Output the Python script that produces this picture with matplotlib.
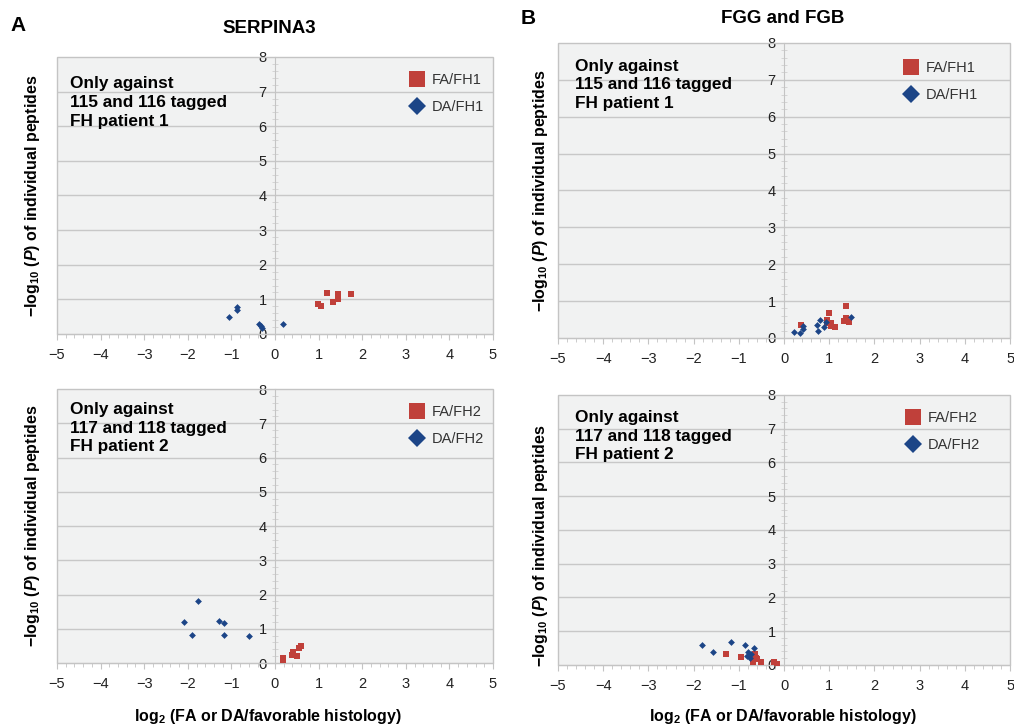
import matplotlib
matplotlib.use("Agg")
import matplotlib.pyplot as plt
import matplotlib.transforms as mtransforms
from matplotlib.lines import Line2D
from matplotlib.patches import Rectangle
from matplotlib.ticker import MultipleLocator

plt.rcParams.update({
    "font.family": ["Liberation Sans", "DejaVu Sans"],
    "mathtext.fontset": "custom",
    "mathtext.rm": "Liberation Sans:bold",
    "mathtext.bf": "Liberation Sans:bold",
    "mathtext.it": "Liberation Sans:italic:bold",
    "mathtext.default": "bf",
})

RED = "#c0403a"
BLUE = "#1c4587"

# A top: SERPINA3, patient 1
a1_fa_x = [1.20, 1.44, 1.74, 1.45, 1.34, 0.98, 1.06]
a1_fa_y = [1.19, 1.16, 1.16, 1.02, 0.93, 0.875, 0.82]
a1_da_x = [-0.86, -0.88, -1.05, -0.37, -0.32, -0.30, 0.19]
a1_da_y = [0.77, 0.70, 0.48, 0.30, 0.23, 0.17, 0.30]

# A bottom: SERPINA3, patient 2
a2_fa_x = [0.19, 0.19, 0.40, 0.42, 0.51, 0.56, 0.59]
a2_fa_y = [0.15, 0.08, 0.24, 0.32, 0.21, 0.44, 0.50]
a2_da_x = [-1.76, -2.09, -1.28, -1.16, -1.91, -1.16, -0.60]
a2_da_y = [1.82, 1.19, 1.22, 1.17, 0.82, 0.82, 0.78]

# B top: FGG and FGB, patient 1
b1_fa_x = [0.38, 1.00, 1.38, 0.94, 0.94, 1.05, 1.05, 1.12, 1.32, 1.38, 1.44]
b1_fa_y = [0.35, 0.67, 0.86, 0.49, 0.40, 0.40, 0.33, 0.29, 0.45, 0.53, 0.43]
b1_da_x = [0.23, 0.35, 0.43, 0.41, 0.74, 0.79, 0.76, 0.89, 0.92, 1.48]
b1_da_y = [0.15, 0.13, 0.24, 0.33, 0.35, 0.48, 0.20, 0.31, 0.44, 0.56]

# B bottom: FGG and FGB, patient 2
b2_fa_x = [-1.29, -0.95, -0.75, -0.65, -0.63, -0.69, -0.59, -0.52, -0.23, -0.16]
b2_fa_y = [0.34, 0.25, 0.31, 0.34, 0.21, 0.10, 0.17, 0.10, 0.08, 0.04]
b2_da_x = [-1.81, -1.58, -1.17, -0.86, -0.67, -0.79, -0.81, -0.76, -0.73]
b2_da_y = [0.58, 0.38, 0.67, 0.58, 0.51, 0.37, 0.27, 0.22, 0.32]

x_ticks = [-5, -4, -3, -2, -1, 0, 1, 2, 3, 4, 5]
y_ticks = [0, 1, 2, 3, 4, 5, 6, 7, 8]

YLABEL = r"$-$log$_{10}$ ($\mathit{P}$) of individual peptides"
XLABEL = r"log$_{2}$ (FA or DA/favorable histology)"

fig = plt.figure(figsize=(10.14, 7.27), dpi=100)

panels = [
    dict(rect=[0.0562, 0.5406, 0.4300, 0.3810], fa=(a1_fa_x, a1_fa_y), da=(a1_da_x, a1_da_y),
         labels=("FA/FH1", "DA/FH1"), patient="115 and 116 tagged\nFH patient 1",
         leg=(0.79, 0.962), note=(0.030, 0.930), ylab_x=0.0316, ylab_y=0.5),
    dict(rect=[0.0562, 0.0880, 0.4300, 0.3769], fa=(a2_fa_x, a2_fa_y), da=(a2_da_x, a2_da_y),
         labels=("FA/FH2", "DA/FH2"), patient="117 and 118 tagged\nFH patient 2",
         leg=(0.79, 0.962), note=(0.030, 0.952), ylab_x=0.0316, ylab_y=0.5),
    dict(rect=[0.5503, 0.5351, 0.4458, 0.4058], fa=(b1_fa_x, b1_fa_y), da=(b1_da_x, b1_da_y),
         labels=("FA/FH1", "DA/FH1"), patient="115 and 116 tagged\nFH patient 1",
         leg=(0.745, 0.958), note=(0.038, 0.946), ylab_x=0.533, ylab_y=0.5),
    dict(rect=[0.5503, 0.0853, 0.4458, 0.3714], fa=(b2_fa_x, b2_fa_y), da=(b2_da_x, b2_da_y),
         labels=("FA/FH2", "DA/FH2"), patient="117 and 118 tagged\nFH patient 2",
         leg=(0.75, 0.962), note=(0.038, 0.944), ylab_x=0.533, ylab_y=0.44),
]

for p in panels:
    ax = fig.add_axes(p["rect"])
    ax.set_facecolor("#f1f2f2")
    ax.set_xlim(-5, 5)
    ax.set_ylim(0, 8)

    # horizontal gridlines and box
    for yv in y_ticks[1:-1]:
        ax.axhline(yv, color="#c8c8c8", lw=1.0, zorder=1)
    ax.add_patch(Rectangle((0, 0), 1, 1, transform=ax.transAxes, fill=False,
                           edgecolor="#c4c4c4", lw=1.0, zorder=2, clip_on=False))
    for s in ["top", "right"]:
        ax.spines[s].set_visible(False)
    ax.spines["bottom"].set_color("#c4c4c4")
    ax.spines["left"].set_position(("data", 0))
    ax.spines["left"].set_color("#c4c4c4")

    ax.set_xticks(x_ticks)
    ax.set_xticklabels([str(v).replace("-", "\u2212") for v in x_ticks], fontsize=10.5)
    ax.xaxis.set_minor_locator(MultipleLocator(0.2))
    ax.tick_params(axis="x", which="major", length=4, color="#c4c4c4", pad=6, labelcolor="#222222")
    ax.tick_params(axis="x", which="minor", length=3, color="#c4c4c4")

    ax.set_yticks(y_ticks)
    ax.set_yticklabels([str(v) for v in y_ticks], fontsize=10.5)
    ax.yaxis.set_minor_locator(MultipleLocator(0.2))
    ax.tick_params(axis="y", which="major", length=0, pad=6, labelcolor="#222222")
    ax.tick_params(axis="y", which="minor", length=4, direction="inout", color="#d0d0d0")

    ax.scatter(*p["fa"], marker="s", s=16, color=RED, zorder=4, linewidths=0)
    ax.scatter(*p["da"], marker="D", s=12, color=BLUE, zorder=4, linewidths=0)

    handles = [
        Line2D([], [], ls="none", marker="s", markersize=11.5, color=RED, markeredgewidth=0),
        Line2D([], [], ls="none", marker="D", markersize=9.5, color=BLUE, markeredgewidth=0),
    ]
    ax.legend(handles, p["labels"], loc="upper left", bbox_to_anchor=p["leg"], frameon=False,
              fontsize=10.5, handletextpad=0.3, labelspacing=0.9, handlelength=1.4,
              borderaxespad=0, labelcolor="#333333")

    ax.text(p["note"][0], p["note"][1], "Only against\n" + p["patient"], transform=ax.transAxes,
            ha="left", va="top", fontsize=12.4, fontweight="bold", linespacing=1.3, zorder=5)

    tr = mtransforms.blended_transform_factory(fig.transFigure, ax.transAxes)
    ax.text(p["ylab_x"], p["ylab_y"], YLABEL, transform=tr, rotation=90, ha="center",
            va="center", fontsize=11.5, fontweight="bold")

fig.text(0.018, 0.965, "A", fontsize=15, fontweight="bold", ha="center", va="center")
fig.text(0.521, 0.975, "B", fontsize=15, fontweight="bold", ha="center", va="center")
fig.text(0.266, 0.961, "SERPINA3", fontsize=13.5, fontweight="bold", ha="center", va="center")
fig.text(0.772, 0.975, "FGG and FGB", fontsize=13.5, fontweight="bold", ha="center", va="center")
fig.text(0.264, 0.014, XLABEL, fontsize=11.5, fontweight="bold", ha="center", va="center")
fig.text(0.772, 0.014, XLABEL, fontsize=11.5, fontweight="bold", ha="center", va="center")

fig.savefig("out.png", dpi=100)
